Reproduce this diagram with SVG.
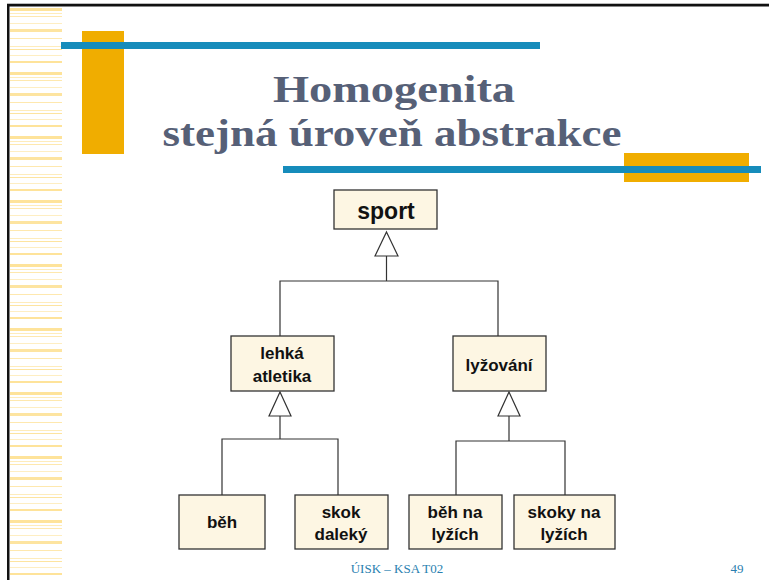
<svg xmlns="http://www.w3.org/2000/svg" width="769" height="580" viewBox="0 0 769 580">
  <defs>
    <!-- faint yellow ruling for the left margin strip -->
    <pattern id="ruling" x="10" y="0" width="52" height="64" patternUnits="userSpaceOnUse">
      <rect x="0" y="8" width="52" height="3" fill="#fdd978" opacity="0.75"/>
      <rect x="0" y="13" width="52" height="1" fill="#fdd978" opacity="0.5"/>
      <rect x="0" y="16" width="52" height="1" fill="#fdd978" opacity="0.6"/>
      <rect x="0" y="23" width="52" height="1" fill="#fdd978" opacity="0.45"/>
      <rect x="0" y="29" width="52" height="3" fill="#fdd978" opacity="0.7"/>
      <rect x="0" y="38" width="52" height="1" fill="#fdd978" opacity="0.6"/>
      <rect x="0" y="46" width="52" height="1" fill="#fdd978" opacity="0.5"/>
      <rect x="0" y="49" width="52" height="1" fill="#fdd978" opacity="0.7"/>
      <rect x="0" y="55" width="52" height="1" fill="#fdd978" opacity="0.45"/>
      <rect x="0" y="61" width="52" height="2" fill="#fdd978" opacity="0.75"/>
    </pattern>
    <style>
      .box { fill: #fdf6e3; stroke: #333333; stroke-width: 1.3; }
      .lbl { font-family: "Liberation Sans", Arial, sans-serif; font-weight: bold; font-size: 17px; fill: #111111; text-anchor: middle; }
      .wire { fill: none; stroke: #333333; stroke-width: 1.2; }
      .gen { fill: #ffffff; stroke: #333333; stroke-width: 1.2; }
      .title { font-family: "Liberation Serif", "Times New Roman", serif; font-weight: bold; font-size: 37px; fill: #566077; text-anchor: middle; }
      .foot { font-family: "Liberation Serif", "Times New Roman", serif; font-size: 13px; fill: #2a7fb0; }
    </style>
  </defs>

  <rect width="769" height="580" fill="#ffffff"/>

  <!-- slide frame -->
  <g id="frame">
    <rect x="10" y="6" width="52" height="574" fill="url(#ruling)"/>
    <rect x="7" y="3" width="762" height="1" fill="#bbbbbb"/>
    <rect x="7" y="4" width="762" height="2.5" fill="#111111"/>
    <rect x="7" y="4" width="2.5" height="576" fill="#111111"/>
  </g>

  <!-- title decoration -->
  <g id="decor">
    <rect x="82" y="31" width="42" height="123" fill="#f0ad00"/>
    <rect x="61" y="42" width="479" height="7" fill="#168cbb"/>
    <rect x="624" y="153" width="125" height="29" fill="#f0ad00"/>
    <rect x="283" y="166" width="478" height="7" fill="#168cbb"/>
  </g>

  <g id="title">
    <text class="title" x="394" y="102" textLength="242" lengthAdjust="spacingAndGlyphs">Homogenita</text>
    <text class="title" x="392" y="146" textLength="459" lengthAdjust="spacingAndGlyphs">stejná úroveň abstrakce</text>
  </g>

  <!-- generalisation connectors -->
  <g id="connectors">
    <path class="wire" d="M386.5 256 V281 M280 336 V281 H498 V336"/>
    <polygon class="gen" points="386.5,232 398,256 375,256"/>
    <path class="wire" d="M280 416 V439 M222 495 V439 H338 V495"/>
    <polygon class="gen" points="280,392 291,416 269,416"/>
    <path class="wire" d="M509 416 V441 M456 495 V441 H565 V495"/>
    <polygon class="gen" points="509,392 520,416 498,416"/>
  </g>

  <g id="sport">
    <rect class="box" x="334" y="190" width="103" height="39"/>
    <text class="lbl" x="386" y="219" style="font-size:23px">sport</text>
  </g>
  <g id="lehka-atletika">
    <rect class="box" x="231" y="336" width="103" height="55"/>
    <text class="lbl" x="282" y="359">lehká</text>
    <text class="lbl" x="282" y="382">atletika</text>
  </g>
  <g id="lyzovani">
    <rect class="box" x="453" y="336" width="93" height="55"/>
    <text class="lbl" x="499" y="371">lyžování</text>
  </g>
  <g id="beh">
    <rect class="box" x="179" y="495" width="86" height="54"/>
    <text class="lbl" x="222" y="528">běh</text>
  </g>
  <g id="skok-daleky">
    <rect class="box" x="295" y="495" width="93" height="54"/>
    <text class="lbl" x="341" y="518">skok</text>
    <text class="lbl" x="341" y="540">daleký</text>
  </g>
  <g id="beh-na-lyzich">
    <rect class="box" x="409" y="495" width="93" height="54"/>
    <text class="lbl" x="455" y="518">běh na</text>
    <text class="lbl" x="455" y="540">lyžích</text>
  </g>
  <g id="skoky-na-lyzich">
    <rect class="box" x="514" y="495" width="101" height="54"/>
    <text class="lbl" x="564" y="518">skoky na</text>
    <text class="lbl" x="564" y="540">lyžích</text>
  </g>

  <g id="footer">
    <text class="foot" x="397" y="573" text-anchor="middle">ÚISK – KSA T02</text>
    <text class="foot" x="737" y="573" text-anchor="middle">49</text>
  </g>
</svg>
